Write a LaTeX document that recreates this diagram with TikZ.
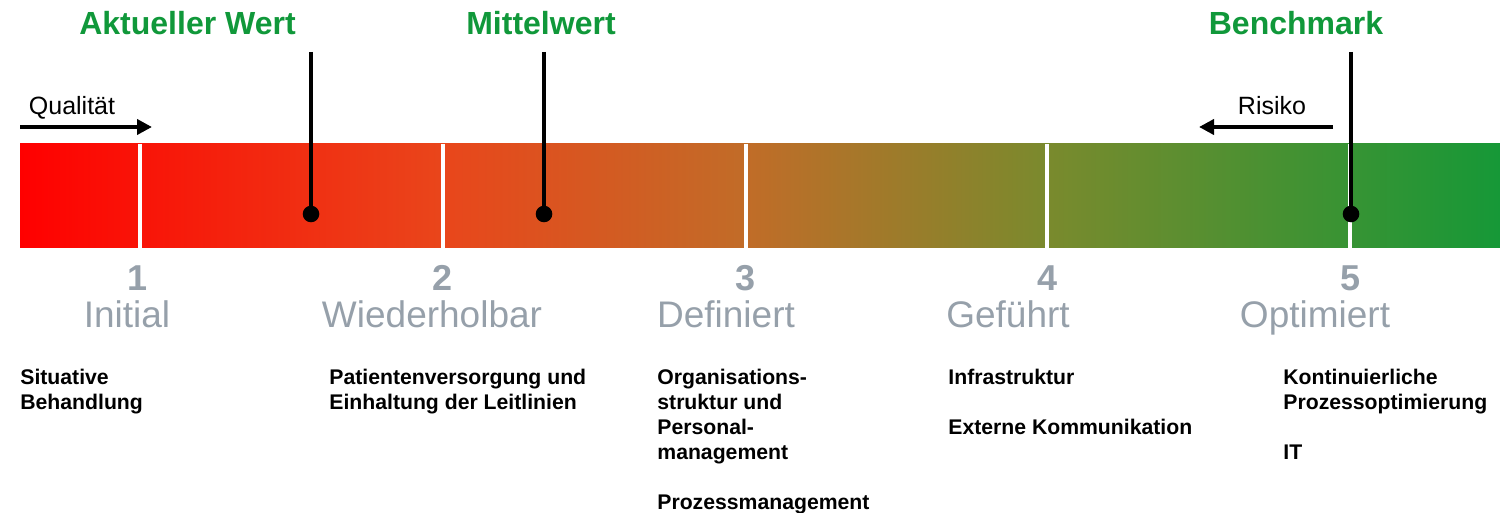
\documentclass[tikz,border=0pt]{standalone}
\usepackage{fontspec}
\setmainfont{Liberation Sans}
\usetikzlibrary{arrows.meta}

% colour stops of the maturity bar
\definecolor{barA}{RGB}{255,0,0}
\definecolor{barB}{RGB}{233,70,27}
\definecolor{barC}{RGB}{193,108,40}
\definecolor{barD}{RGB}{122,138,45}
\definecolor{barE}{RGB}{22,152,55}
\definecolor{headgreen}{RGB}{16,152,58}
\definecolor{levelgray}{RGB}{150,160,170}

\newcommand{\stack}[1]{\begin{tabular}[t]{@{}l@{}}#1\end{tabular}}

\begin{document}
\begin{tikzpicture}[x=0.5pt,y=-0.5pt,
  head/.style={font=\fontsize{16}{19}\selectfont\bfseries, text=headgreen, inner sep=0, anchor=base},
  side/.style={font=\fontsize{12.5}{15}\selectfont, inner sep=0, anchor=base},
  sidearrow/.style={line width=2pt, -{Triangle[length=7.5pt,width=7.5pt]}},
  levelnum/.style={font=\fontsize{18}{21}\selectfont\bfseries, text=levelgray, inner sep=0, anchor=base},
  levelname/.style={font=\fontsize{18.5}{22}\selectfont, text=levelgray, inner sep=0, anchor=base},
  item/.style={font=\fontsize{10.6}{12.5}\selectfont\bfseries, inner sep=0, anchor=base west},
  divider/.style={draw=white, line width=1.6pt},
  marker/.style={line width=1.8pt},
  dot/.style={circle, fill=black, inner sep=0, minimum size=8.3pt}
]
\useasboundingbox (0,0) rectangle (1500,513);

% gradient bar, piecewise between the colour stops
\shade[left color=barA, right color=barB] (20,144) rectangle (443.5,248);
\shade[left color=barB, right color=barC] (443,144) rectangle (745.5,248);
\shade[left color=barC, right color=barD] (745,144) rectangle (1047.5,248);
\shade[left color=barD, right color=barE] (1047,144) rectangle (1500,248);

% white dividers between the levels
\foreach \x/\n in {140/a,443/b,746/c,1047/d,1350/e}{
  \coordinate (dt\n) at (\x,144);
  \coordinate (db\n) at (\x,248);
  \draw[divider] (dt\n) -- (db\n);
}

% direction arrows
\node[side] (qual) at (72,115) {Qualität};
\coordinate (qs) at (20,127);
\coordinate (qe) at (152,127);
\draw[sidearrow] (qs) -- (qe);

\node[side] (risk) at (1272,115) {Risiko};
\coordinate (rs) at (1333,127);
\coordinate (re) at (1199,127);
\draw[sidearrow] (rs) -- (re);

% value markers
\node[head] (hA) at (187.5,35) {Aktueller Wert};
\node[head] (hM) at (541,35) {Mittelwert};
\node[head] (hB) at (1296,35) {Benchmark};

\coordinate (tA) at (311,52);
\coordinate (tM) at (544,52);
\coordinate (tB) at (1351,52);
\node[dot] (mA) at (311,214) {};
\node[dot] (mM) at (544,214) {};
\node[dot] (mB) at (1351,214) {};
\draw[marker] (tA) -- (mA.center);
\draw[marker] (tM) -- (mM.center);
\draw[marker] (tB) -- (mB.center);

% level numbers and names
\node[levelnum] (n1) at (138,291) {1};
\node[levelnum] (n2) at (443,291) {2};
\node[levelnum] (n3) at (746,291) {3};
\node[levelnum] (n4) at (1048,291) {4};
\node[levelnum] (n5) at (1350,291) {5};

\node[levelname] (l1) at (127,328) {Initial};
\node[levelname] (l2) at (432,328) {Wiederholbar};
\node[levelname] (l3) at (726,328) {Definiert};
\node[levelname] (l4) at (1008,328) {Geführt};
\node[levelname] (l5) at (1315,328) {Optimiert};

% topics per level
\node[item] (i1) at (20,385) {\stack{Situative\\Behandlung}};
\node[item] (i2) at (329,385) {\stack{Patientenversorgung und\\Einhaltung der Leitlinien}};
\node[item] (i3) at (657,385) {\stack{Organisations-\\struktur und\\Personal-\\management\\ \\Prozessmanagement}};
\node[item] (i4) at (948,385) {\stack{Infrastruktur\\ \\Externe Kommunikation}};
\node[item] (i5) at (1283,385) {\stack{Kontinuierliche\\Prozessoptimierung\\ \\IT}};
\end{tikzpicture}
\end{document}
